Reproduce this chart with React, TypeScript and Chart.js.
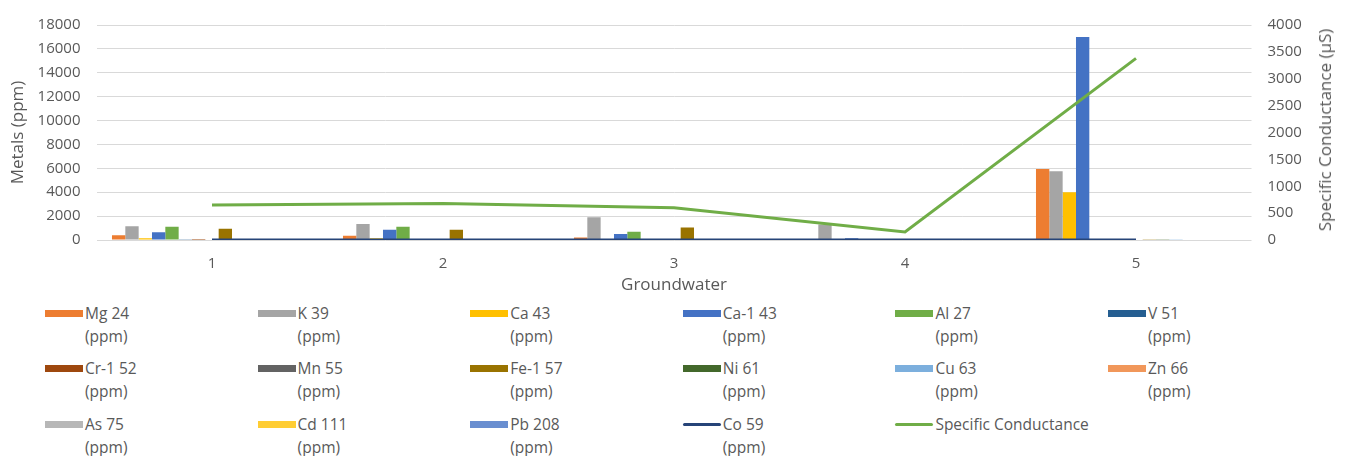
import React, { useEffect, useRef } from "react";
import { Chart, registerables } from "chart.js";

Chart.register(...registerables);

const categories = ["1", "2", "3", "4", "5"];

const mg24 = [400, 350, 200, 0, 5950];
const k39 = [1150, 1350, 1900, 1300, 5750];
const ca43 = [150, 150, 0, 0, 4000];
const ca1_43 = [650, 850, 500, 150, 17000];
const al27 = [1100, 1100, 700, 0, 0];
const v51 = [60, 0, 0, 0, 0];
const cr1_52 = [80, 0, 0, 0, 0];
const mn55 = [0, 0, 0, 0, 0];
const fe1_57 = [950, 850, 1050, 0, 60];
const ni61 = [0, 0, 0, 0, 60];
const cu63 = [0, 0, 0, 0, 60];
const zn66 = [0, 0, 0, 0, 0];
const as75 = [0, 0, 0, 0, 50];
const cd111 = [0, 0, 0, 0, 0];
const pb208 = [0, 0, 0, 0, 0];
const co59 = [5, 5, 5, 5, 5];
const specificConductance = [650, 680, 600, 150, 3380];

const leftTicks = [0, 2000, 4000, 6000, 8000, 10000, 12000, 14000, 16000, 18000];
const rightTicks = [0, 500, 1000, 1500, 2000, 2500, 3000, 3500, 4000];

const barSeries = [
  { label: "Mg 24", data: mg24, color: "#ED7D31" },
  { label: "K 39", data: k39, color: "#A5A5A5" },
  { label: "Ca 43", data: ca43, color: "#FFC000" },
  { label: "Ca-1 43", data: ca1_43, color: "#4472C4" },
  { label: "Al 27", data: al27, color: "#70AD47" },
  { label: "V 51", data: v51, color: "#255E91" },
  { label: "Cr-1 52", data: cr1_52, color: "#9E480E" },
  { label: "Mn 55", data: mn55, color: "#636363" },
  { label: "Fe-1 57", data: fe1_57, color: "#997300" },
  { label: "Ni 61", data: ni61, color: "#43682B" },
  { label: "Cu 63", data: cu63, color: "#7CAFDD" },
  { label: "Zn 66", data: zn66, color: "#F1975A" },
  { label: "As 75", data: as75, color: "#B7B7B7" },
  { label: "Cd 111", data: cd111, color: "#FFCD33" },
  { label: "Pb 208", data: pb208, color: "#698ED0" },
];

const lineSeries = [
  { label: "Co 59", data: co59, color: "#264478", axis: "y", unit: true },
  { label: "Specific Conductance", data: specificConductance, color: "#70AD47", axis: "y1", unit: false },
];

const FONT = "'Open Sans', sans-serif";
const TEXT = "#595959";

export default function App() {
  const ref = useRef<HTMLCanvasElement | null>(null);

  useEffect(() => {
    if (!ref.current) return;
    const datasets: any[] = [
      ...lineSeries.map((s) => ({
        type: "line",
        label: s.label,
        data: s.data,
        borderColor: s.color,
        backgroundColor: s.color,
        borderWidth: 3,
        pointRadius: 0,
        tension: 0,
        yAxisID: s.axis,
        order: 0,
      })),
      ...barSeries.map((s) => ({
        type: "bar",
        label: s.label,
        data: s.data,
        backgroundColor: s.color,
        borderWidth: 0,
        barPercentage: 1,
        categoryPercentage: 0.866,
        yAxisID: "y",
        order: 1,
      })),
    ];
    const chart = new Chart(ref.current, {
      type: "bar",
      data: { labels: categories, datasets },
      options: {
        responsive: false,
        animation: false,
        layout: { padding: { top: 19, left: 0, right: 0, bottom: 0 } },
        plugins: { legend: { display: false }, tooltip: { enabled: false } },
        scales: {
          x: {
            grid: { display: false, drawTicks: false },
            border: { display: false },
            ticks: { color: TEXT, font: { family: FONT, size: 15 }, padding: 15 },
            title: {
              display: true,
              text: "Groundwater",
              color: TEXT,
              font: { family: FONT, size: 17 },
              padding: { top: 0, bottom: 5 },
            },
            afterFit: (axis: any) => {
              axis.height = 60;
            },
          },
          y: {
            position: "left",
            min: 0,
            max: 18000,
            afterBuildTicks: (axis: any) => {
              axis.ticks = leftTicks.map((v) => ({ value: v }));
            },
            grid: { color: "#D9D9D9", drawTicks: false },
            border: { display: false },
            ticks: {
              color: TEXT,
              font: { family: FONT, size: 15 },
              padding: 16,
              callback: (v: any) => String(v),
            },
            title: {
              display: true,
              text: "Metals (ppm)",
              color: TEXT,
              font: { family: FONT, size: 17 },
              padding: { top: 8, bottom: 0 },
            },
            afterFit: (axis: any) => {
              axis.width = 96.5;
            },
          },
          y1: {
            position: "right",
            min: 0,
            max: 4000,
            afterBuildTicks: (axis: any) => {
              axis.ticks = rightTicks.map((v) => ({ value: v }));
            },
            grid: { drawOnChartArea: false, drawTicks: false },
            border: { display: false },
            ticks: {
              color: TEXT,
              font: { family: FONT, size: 15 },
              padding: 16,
              callback: (v: any) => String(v),
            },
            title: { display: false },
            afterFit: (axis: any) => {
              axis.width = 94.5;
            },
          },
        },
      } as any,
    });
    return () => chart.destroy();
  }, []);

  const legendItems = [
    ...barSeries.map((s) => ({ label: s.label, color: s.color, line: false, unit: true })),
    ...lineSeries.map((s) => ({ label: s.label, color: s.color, line: true, unit: s.unit })),
  ];
  const rowCenters = [313, 368, 424];

  return (
    <div
      style={{
        position: "absolute",
        left: 0,
        top: 0,
        width: 1346,
        height: 456,
        background: "#ffffff",
        overflow: "hidden",
        fontFamily: FONT,
      }}
    >
      <canvas ref={ref} width={1346} height={300} style={{ display: "block" }} />
      <div
        style={{
          position: "absolute",
          left: 1325,
          top: 130,
          transform: "translate(-50%, -50%) rotate(-90deg)",
          fontSize: 17,
          color: TEXT,
          whiteSpace: "nowrap",
          lineHeight: "20px",
        }}
      >
        Specific Conductance (µS)
      </div>
      {legendItems.map((it, i) => {
        const col = i % 6;
        const row = Math.floor(i / 6);
        const left = 45 + col * 212.6;
        const cy = rowCenters[row];
        return (
          <div key={it.label}>
            <div
              style={{
                position: "absolute",
                left,
                top: it.line ? cy - 1.5 : cy - 3.5,
                width: 38,
                height: it.line ? 3 : 7,
                background: it.color,
                borderRadius: it.line ? 2 : 0,
              }}
            />
            <div
              style={{
                position: "absolute",
                left: left + 40,
                top: cy - 11.5,
                lineHeight: "23px",
                fontSize: 15.5,
                color: TEXT,
                whiteSpace: "nowrap",
              }}
            >
              {it.label}
              {it.unit ? (
                <>
                  <br />
                  (ppm)
                </>
              ) : null}
            </div>
          </div>
        );
      })}
    </div>
  );
}
